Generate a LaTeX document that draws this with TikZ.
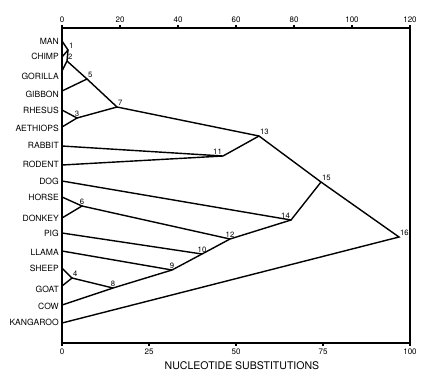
\documentclass[tikz,border=0pt]{standalone}
\usepackage{fontspec}
\setmainfont{TeX Gyre Heros}
\newcommand{\Leaf}[4]{
\coordinate (#1) at (62,#2); % point on the axis
\node[leaf] (#1-t) at (59,#3) {#4}; % name of the species
}
\newcommand{\Fork}[4]{
\coordinate[label={[num]#4:#1}] (n#1) at (#2,#3);
}

\begin{document}
\begin{tikzpicture}[x=0.03cm, y=-0.03cm,
leaf/.style={anchor=east, inner sep=0, font=\fontsize{7.3}{8}\selectfont},
num/.style={inner sep=0.8pt, font=\fontsize{6.6}{7}\selectfont},
tick/.style={inner sep=0, font=\fontsize{6.8}{7}\selectfont},
branch/.style={line width=1.2pt, line join=miter},
frame/.style={line width=1.2pt},
]
\useasboundingbox (0,0) rectangle (433,379);

%%%%%%%%%%%%%%%%%%%%%%%% FRAME %%%%%%%%%%%%%%%%%%%%%%%%%%%
\draw[frame] (62,28) rectangle (410,343);
\foreach \v [count=\i from 0] in {0,20,40,60,80,100,120}
  {\draw[frame] (62+\i*58,28)--(62+\i*58,25);
   \node[tick] (top\i) at (62+\i*58,20) {\v};}
\foreach \v [count=\i from 0] in {0,25,50,75,100}
  {\draw[frame] (62+\i*87,343)--(62+\i*87,346);
   \node[tick] (bot\i) at (62+\i*87,352) {\v};}
\node[font=\fontsize{9}{10}\selectfont] (xlabel) at (242,366) {NUCLEOTIDE SUBSTITUTIONS};

%%%%%%%%%%%%%%%%%%%%%%%% SPECIES %%%%%%%%%%%%%%%%%%%%%%%%%%%
\Leaf{man}{41}{41}{MAN}
\Leaf{chimp}{57}{56}{CHIMP}
\Leaf{gorilla}{71}{76}{GORILLA}
\Leaf{gibbon}{91}{94}{GIBBON}
\Leaf{rhesus}{110}{110}{RHESUS}
\Leaf{aethiops}{127}{128}{AETHIOPS}
\Leaf{rabbit}{146}{145}{RABBIT}
\Leaf{rodent}{165}{164}{RODENT}
\Leaf{dog}{181}{181}{DOG}
\Leaf{horse}{197}{197}{HORSE}
\Leaf{donkey}{218}{218}{DONKEY}
\Leaf{pig}{233}{233}{PIG}
\Leaf{llama}{251}{252}{LLAMA}
\Leaf{sheep}{268}{268}{SHEEP}
\Leaf{goat}{286}{289}{GOAT}
\Leaf{cow}{305}{306}{COW}
\Leaf{kangaroo}{323}{322}{KANGAROO}

%%%%%%%%%%%%%%%%%%%%%%%% ANCESTORS %%%%%%%%%%%%%%%%%%%%%%%%%%%
\Fork{1}{68}{50}{above right}
\Fork{2}{67}{61}{above right}
\Fork{3}{77}{118}{above}
\Fork{4}{72}{278}{above right}
\Fork{5}{87}{79}{above right}
\Fork{6}{82}{206}{above}
\Fork{7}{117}{107}{above right}
\Fork{8}{113}{288}{above}
\Fork{9}{172}{270}{above}
\Fork{10}{202}{254}{above}
\Fork{11}{223}{156}{above left}
\Fork{12}{230}{239}{above}
\Fork{13}{259}{136}{above right}
\Fork{14}{291}{220}{above left}
\Fork{15}{321}{182}{above right}
\Fork{16}{399}{237}{above right}

%%%%%%%%%%%%%%%%%%%%%%%% TREE %%%%%%%%%%%%%%%%%%%%%%%%%%%
\draw[branch] (man)--(n1)--(chimp);
\draw[branch] (n1)--(n2)--(gorilla);
\draw[branch] (n2)--(n5)--(gibbon);
\draw[branch] (n5)--(n7);
\draw[branch] (rhesus)--(n3)--(aethiops);
\draw[branch] (n3)--(n7)--(n13);
\draw[branch] (rabbit)--(n11)--(rodent);
\draw[branch] (n11)--(n13)--(n15)--(n16)--(kangaroo);
\draw[branch] (dog)--(n14)--(n15);
\draw[branch] (horse)--(n6)--(donkey);
\draw[branch] (n6)--(n12)--(n14);
\draw[branch] (pig)--(n10)--(n12);
\draw[branch] (llama)--(n9)--(n10);
\draw[branch] (sheep)--(n4)--(goat);
\draw[branch] (n4)--(n8);
\draw[branch] (cow)--(n8)--(n9);
\end{tikzpicture}
\end{document}
